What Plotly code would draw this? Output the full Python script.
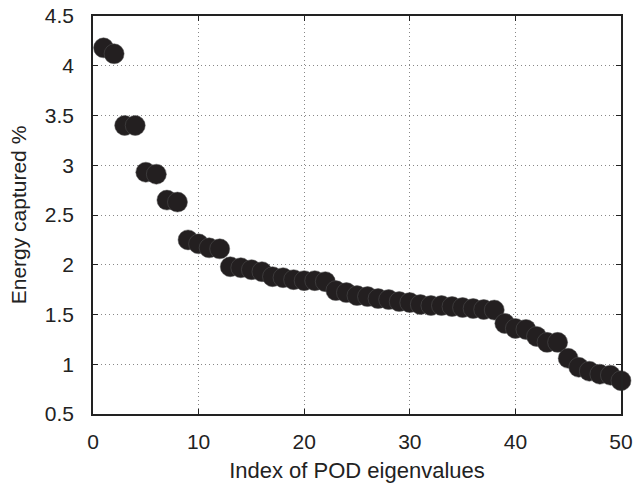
import plotly.graph_objects as go

index = list(range(1, 51))
energy = [4.18, 4.12, 3.40, 3.40, 2.93, 2.91, 2.65, 2.63, 2.25, 2.21,
          2.17, 2.16, 1.98, 1.97, 1.95, 1.93, 1.88, 1.87, 1.85, 1.84,
          1.84, 1.83, 1.74, 1.72, 1.69, 1.68, 1.66, 1.65, 1.63, 1.62,
          1.60, 1.59, 1.59, 1.58, 1.57, 1.56, 1.55, 1.545, 1.41, 1.36,
          1.35, 1.28, 1.22, 1.22, 1.06, 0.97, 0.93, 0.90, 0.89, 0.835]

x_ticks = [0, 10, 20, 30, 40, 50]
y_ticks = [0.5, 1, 1.5, 2, 2.5, 3, 3.5, 4, 4.5]
y_tick_labels = ["0.5", "1", "1.5", "2", "2.5", "3", "3.5", "4", "4.5"]

fig = go.Figure()
fig.add_trace(go.Scatter(
    x=index, y=energy, mode="markers",
    marker=dict(size=20, color="#231f20", line=dict(color="#555", width=0.5)),
    showlegend=False, cliponaxis=False,
))

font = dict(family="Liberation Sans, Arial, sans-serif", color="#222")
axis_common = dict(
    showline=True, linecolor="#222", linewidth=1.5, mirror="ticks",
    ticks="inside", ticklen=5, tickcolor="#222", tickwidth=1,
    showgrid=True, gridcolor="#888", griddash="1px,3px", gridwidth=1,
    zeroline=False, tickfont=dict(size=21, **font), automargin=False,
    ticklabeloverflow="allow",
)
fig.update_xaxes(range=[0, 50], tickvals=x_ticks, ticklabelstandoff=8,
                 title=dict(text="Index of POD eigenvalues", font=dict(size=22, **font), standoff=11),
                 **axis_common)
fig.update_yaxes(range=[0.5, 4.5], tickvals=y_ticks, ticktext=y_tick_labels, ticklabelstandoff=13,
                 title=dict(text="Energy captured %", font=dict(size=21, **font), standoff=12),
                 **axis_common)
fig.update_layout(
    width=635, height=493,
    margin=dict(l=93, r=14, t=16, b=79),
    plot_bgcolor="white", paper_bgcolor="white",
    font=font,
)
fig.write_html("out.html", config={"displayModeBar": False},
               post_script="document.body.style.margin='0';document.body.style.overflow='hidden';")
